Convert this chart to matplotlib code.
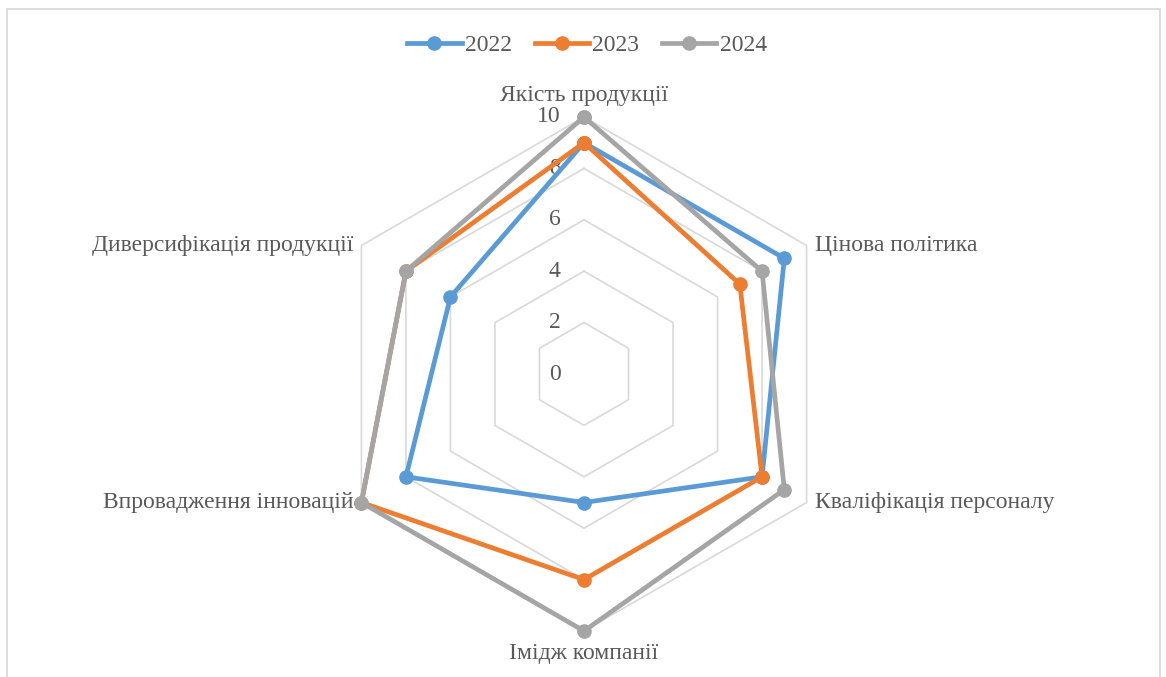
import numpy as np
import matplotlib
matplotlib.use('Agg')
import matplotlib.pyplot as plt
import matplotlib.transforms as mtrans
from matplotlib.patches import Rectangle
from matplotlib.lines import Line2D

# categories, clockwise from the top
categories = ['Якість продукції', 'Цінова політика', 'Кваліфікація персоналу',
              'Імідж компанії', 'Впровадження інновацій', 'Диверсифікація продукції']
years = ['2022', '2023', '2024']
v2022 = [9, 9, 8, 5, 8, 6]
v2023 = [9, 7, 8, 8, 10, 8]
v2024 = [10, 8, 9, 10, 10, 8]
rticks = [0, 2, 4, 6, 8, 10]

colors = ['#5B9BD5', '#ED7D31', '#A5A5A5']
txt = '#595959'
plt.rcParams['font.family'] = ['Liberation Serif', 'DejaVu Serif']

W, H = 1166, 677
fig = plt.figure(figsize=(W / 100, H / 100), dpi=100)

# light gray chart border
fig.patches.append(Rectangle((7 / W, -0.02), 1153 / W, 1 - 8.5 / H + 0.02,
                             transform=fig.transFigure, fill=False,
                             edgecolor='#D9D9D9', linewidth=1.3))

cx, cy, R = 584, 374, 257
ax = fig.add_axes([(cx - R) / W, (H - cy - R) / H, 2 * R / W, 2 * R / H],
                  projection='polar')
ax.set_theta_offset(np.pi / 2)
ax.set_theta_direction(-1)
ax.set_ylim(0, 10)
ax.grid(False)
ax.spines['polar'].set_visible(False)
ax.set_xticks([])
ax.set_yticks([])
ax.patch.set_alpha(0)

n = len(categories)
theta = np.arange(n) * 2 * np.pi / n
theta_c = np.append(theta, theta[0])

# hexagonal gridlines
for r in rticks[1:]:
    ax.plot(theta_c, [r] * (n + 1), color='#D9D9D9', lw=1.2, zorder=1, clip_on=False)

# radial value labels
off = mtrans.offset_copy(ax.transData, fig=fig, x=-17, y=0, units='points')
for r in rticks:
    ax.text(0, r, str(r), transform=off, ha='right', va='center',
            fontsize=17, color=txt)

# series
for vals, c, lab in zip([v2022, v2023, v2024], colors, years):
    ax.plot(theta_c, vals + vals[:1], color=c, lw=3.4, marker='o',
            markersize=9.5, label=lab, zorder=3, solid_joinstyle='round',
            clip_on=False)

# category labels
for t, lab in zip(theta, categories):
    deg = np.degrees(t)
    if deg == 0:
        ax.text(t, 10, lab, ha='center', va='bottom', fontsize=17, color=txt,
                transform=mtrans.offset_copy(ax.transData, fig=fig, x=0, y=8, units='points'))
    elif deg == 180:
        ax.text(t, 10, lab, ha='center', va='top', fontsize=17, color=txt,
                transform=mtrans.offset_copy(ax.transData, fig=fig, x=0, y=-9, units='points'))
    elif deg < 180:
        ax.text(t, 10, lab, ha='left', va='center', fontsize=17, color=txt,
                transform=mtrans.offset_copy(ax.transData, fig=fig, x=6, y=0, units='points'))
    else:
        ax.text(t, 10, lab, ha='right', va='center', fontsize=17, color=txt,
                transform=mtrans.offset_copy(ax.transData, fig=fig, x=-6, y=0, units='points'))

handles = [Line2D([], [], color=c, lw=3.4, marker='o', markersize=9.5) for c in colors]
leg = fig.legend(handles, years, loc='center', bbox_to_anchor=((cx + 3) / W, 1 - 45 / H),
                 ncol=3, frameon=False, fontsize=17, handlelength=2.3,
                 handletextpad=0.15, columnspacing=0.95)
for t in leg.get_texts():
    t.set_color(txt)

fig.savefig('out.png', dpi=100)
